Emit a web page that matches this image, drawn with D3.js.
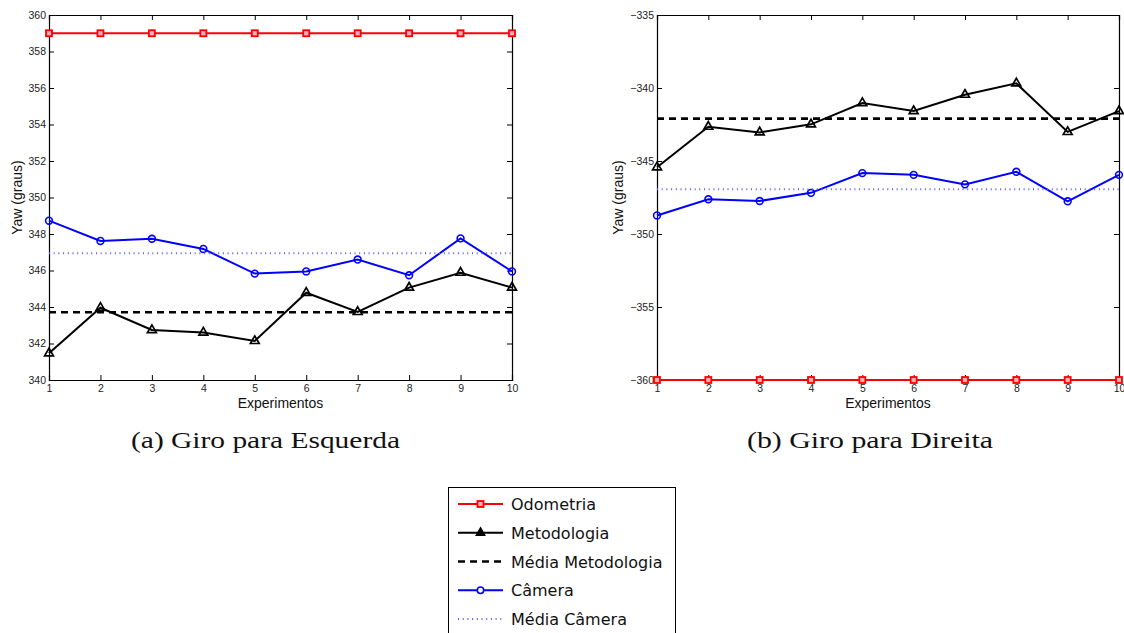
<!DOCTYPE html>
<html>
<head>
<meta charset="utf-8">
<script src="https://cdn.jsdelivr.net/npm/d3@7"></script>
<style>
  html, body { margin: 0; padding: 0; background: #fff; }
  svg { display: block; }
  .tick text { font-family: "Liberation Sans", Arial, sans-serif; font-size: 10.5px; fill: #222; }
  .axis path, .axis line { stroke: #000; }
</style>
</head>
<body>
<svg id="chart" width="1124" height="633"></svg>
<script>
// Experiment indices
const experiments = [1, 2, 3, 4, 5, 6, 7, 8, 9, 10];

// (a) Left turn — yaw in degrees
const leftOdometria   = [359, 359, 359, 359, 359, 359, 359, 359, 359, 359];
const leftMetodologia = [341.46, 343.96, 342.74, 342.60, 342.14, 344.78, 343.73, 345.06, 345.88, 345.06];
const leftMediaMetodologia = 343.71;
const leftCamera      = [348.73, 347.62, 347.74, 347.18, 345.83, 345.95, 346.60, 345.74, 347.76, 345.95];
const leftMediaCamera = 346.94;
const leftYTicks = [340, 342, 344, 346, 348, 350, 352, 354, 356, 358, 360];

// (b) Right turn — yaw in degrees
const rightOdometria   = [-360, -360, -360, -360, -360, -360, -360, -360, -360, -360];
const rightMetodologia = [-345.43, -342.65, -343.04, -342.49, -341.03, -341.58, -340.46, -339.68, -343.01, -341.58];
const rightMediaMetodologia = -342.10;
const rightCamera      = [-348.73, -347.62, -347.74, -347.18, -345.83, -345.95, -346.60, -345.74, -347.76, -345.95];
const rightMediaCamera = -346.94;
const rightYTicks = [-360, -355, -350, -345, -340, -335];

const captions = ["(a) Giro para Esquerda", "(b) Giro para Direita"];
const legendLabels = ["Odometria", "Metodologia", "Média Metodologia", "Câmera", "Média Câmera"];

const svg = d3.select("#chart");

const RED = "#ff0000", BLACK = "#000000", BLUE = "#0000ff", LIGHTBLUE = "#5c5cff";

const triangle = d3.symbol().type(d3.symbolTriangle).size(34);

function drawPanel(cfg) {
  const { x0, x1, y0, y1, domain, ticks, odo, met, medMet, cam, medCam, fmt, caption, capX, capW, labelX } = cfg;
  const x = d3.scaleLinear().domain([1, 10]).range([x0, x1]);
  const y = d3.scaleLinear().domain(domain).range([y1, y0]);
  const g = svg.append("g");

  // Box axes with inward ticks on all four sides
  const tl = 5;
  g.append("g").attr("class", "axis").attr("transform", `translate(0,${y1})`)
    .call(d3.axisBottom(x).tickValues(experiments).tickSize(-tl).tickPadding(5).tickFormat(d3.format("d")));
  g.append("g").attr("class", "axis").attr("transform", `translate(0,${y0})`)
    .call(d3.axisTop(x).tickValues(experiments).tickSize(-tl).tickFormat(""));
  g.append("g").attr("class", "axis").attr("transform", `translate(${x0},0)`)
    .call(d3.axisLeft(y).tickValues(ticks).tickSize(-tl).tickPadding(3).tickFormat(fmt));
  g.append("g").attr("class", "axis").attr("transform", `translate(${x1},0)`)
    .call(d3.axisRight(y).tickValues(ticks).tickSize(-tl).tickFormat(""));
  g.selectAll(".axis path").attr("stroke-width", 1.2);

  const line = d3.line().x((d, i) => x(experiments[i])).y(d => y(d));

  // Odometria
  g.append("path").datum(odo).attr("d", line).attr("fill", "none").attr("stroke", RED).attr("stroke-width", 2);
  g.selectAll(".sq").data(odo).join("rect")
    .attr("x", (d, i) => x(experiments[i]) - 3).attr("y", d => y(d) - 3)
    .attr("width", 6).attr("height", 6)
    .attr("fill", "#ffb0b0").attr("stroke", RED).attr("stroke-width", 1.8);

  // Metodologia
  g.append("path").datum(met).attr("d", line).attr("fill", "none").attr("stroke", BLACK).attr("stroke-width", 2);
  g.selectAll(".tri").data(met).join("path")
    .attr("transform", (d, i) => `translate(${x(experiments[i])},${y(d)})`)
    .attr("d", triangle).attr("fill", "none").attr("stroke", BLACK).attr("stroke-width", 1.7);

  // Média Metodologia
  g.append("line").attr("x1", x(1)).attr("x2", x(10)).attr("y1", y(medMet)).attr("y2", y(medMet))
    .attr("stroke", BLACK).attr("stroke-width", 2.6).attr("stroke-dasharray", "7,5");

  // Câmera
  g.append("path").datum(cam).attr("d", line).attr("fill", "none").attr("stroke", BLUE).attr("stroke-width", 2);
  g.selectAll(".circ").data(cam).join("circle")
    .attr("cx", (d, i) => x(experiments[i])).attr("cy", d => y(d)).attr("r", 3.4)
    .attr("fill", "none").attr("stroke", BLUE).attr("stroke-width", 1.6);

  // Média Câmera
  g.append("line").attr("x1", x(1)).attr("x2", x(10)).attr("y1", y(medCam)).attr("y2", y(medCam))
    .attr("stroke", LIGHTBLUE).attr("stroke-width", 2).attr("stroke-dasharray", "1,3.7");

  // Axis titles
  g.append("text").attr("x", (x0 + x1) / 2).attr("y", 408).attr("text-anchor", "middle")
    .attr("font-family", "Liberation Sans, Arial, sans-serif").attr("font-size", 14).attr("fill", "#111")
    .text("Experimentos");
  g.append("text").attr("transform", `translate(${labelX},${(y0 + y1) / 2}) rotate(-90)`)
    .attr("text-anchor", "middle")
    .attr("font-family", "Liberation Sans, Arial, sans-serif").attr("font-size", 14).attr("fill", "#111")
    .text("Yaw (graus)");

  // Caption
  svg.append("text").attr("x", capX).attr("y", 448).attr("text-anchor", "middle")
    .attr("font-family", "Liberation Serif, DejaVu Serif, serif").attr("font-size", 23.5).attr("fill", "#111")
    .attr("textLength", capW).attr("lengthAdjust", "spacingAndGlyphs")
    .text(caption);
}

const minusFmt = d => String(d).replace("-", "\u2212");

drawPanel({ x0: 49, x1: 512, y0: 15, y1: 380, domain: [340, 360], ticks: leftYTicks,
  odo: leftOdometria, met: leftMetodologia, medMet: leftMediaMetodologia,
  cam: leftCamera, medCam: leftMediaCamera, fmt: d3.format("d"),
  caption: captions[0], capX: 265.5, capW: 269, labelX: 22 });

drawPanel({ x0: 657, x1: 1119, y0: 15, y1: 380, domain: [-360, -335], ticks: rightYTicks,
  odo: rightOdometria, met: rightMetodologia, medMet: rightMediaMetodologia,
  cam: rightCamera, medCam: rightMediaCamera, fmt: minusFmt,
  caption: captions[1], capX: 870, capW: 246, labelX: 623 });

// Legend
const lg = svg.append("g");
lg.append("rect").attr("x", 448.5).attr("y", 487.5).attr("width", 227).attr("height", 160)
  .attr("fill", "#fff").attr("stroke", "#000").attr("stroke-width", 1);
const rowY = d3.scalePoint().domain(legendLabels).range([504, 619]);
const lx0 = 458, lx1 = 503, lxm = (lx0 + lx1) / 2;
legendLabels.forEach((name, i) => {
  const yy = rowY(name);
  const ln = lg.append("line").attr("x1", lx0).attr("x2", lx1).attr("y1", yy).attr("y2", yy);
  if (i === 0) {
    ln.attr("stroke", RED).attr("stroke-width", 2);
    lg.append("rect").attr("x", lxm - 3).attr("y", yy - 3).attr("width", 6).attr("height", 6)
      .attr("fill", "#ffb0b0").attr("stroke", RED).attr("stroke-width", 1.8);
  } else if (i === 1) {
    ln.attr("stroke", BLACK).attr("stroke-width", 2);
    lg.append("path").attr("transform", `translate(${lxm},${yy})`).attr("d", triangle)
      .attr("fill", BLACK).attr("stroke", BLACK).attr("stroke-width", 1.2);
  } else if (i === 2) {
    ln.attr("stroke", BLACK).attr("stroke-width", 2.6).attr("stroke-dasharray", "7,5");
  } else if (i === 3) {
    ln.attr("stroke", BLUE).attr("stroke-width", 2);
    lg.append("circle").attr("cx", lxm).attr("cy", yy).attr("r", 3.2)
      .attr("fill", "#fff").attr("stroke", BLUE).attr("stroke-width", 1.6);
  } else {
    ln.attr("stroke", LIGHTBLUE).attr("stroke-width", 2).attr("stroke-dasharray", "1,3.7");
  }
  lg.append("text").attr("x", 511).attr("y", yy + 6)
    .attr("font-family", "DejaVu Sans, sans-serif").attr("font-size", 16).attr("fill", "#111")
    .text(name);
});
</script>
</body>
</html>
